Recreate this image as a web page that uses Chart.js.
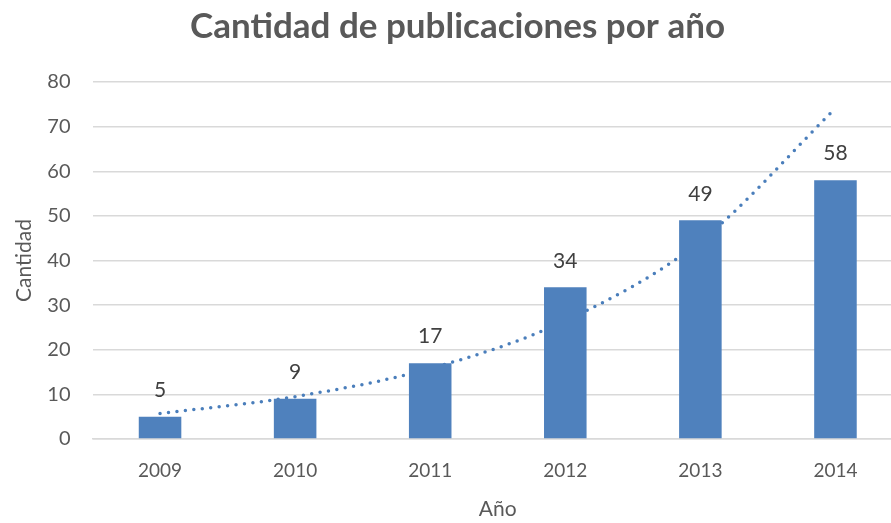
<!DOCTYPE html>
<html>
<head>
<meta charset="utf-8">
<script src="https://cdn.jsdelivr.net/npm/chart.js@4/dist/chart.umd.min.js"></script>
<style>
    html, body { margin: 0; padding: 0; background: #fff; overflow: hidden; }
    #wrap { width: 891px; height: 523px; overflow: hidden; }
</style>
</head>
<body>
<div id="wrap"><canvas id="pubChart" width="903" height="523"></canvas></div>
<script>
const years = ['2009', '2010', '2011', '2012', '2013', '2014'];
const publications = [5, 9, 17, 34, 49, 58];
// exponential trendline at each year
const trend = [5.7, 9.5, 15.8, 26.5, 44.3, 74.1];
const yTicks = [0, 10, 20, 30, 40, 50, 60, 70, 80];

const textColor = '#595959';
const barColor = '#4f81bd';

// draws the value above each bar
const barLabels = {
    id: 'barLabels',
    afterDatasetsDraw(chart) {
        const ctx = chart.ctx;
        const meta = chart.getDatasetMeta(0);
        ctx.save();
        ctx.font = '21px Lato';
        ctx.fillStyle = '#404040';
        ctx.textAlign = 'center';
        ctx.textBaseline = 'bottom';
        meta.data.forEach((bar, i) => {
            ctx.fillText(publications[i], bar.x, bar.y - 16);
        });
        ctx.restore();
    }
};

const ctx = document.getElementById('pubChart').getContext('2d');
new Chart(ctx, {
    type: 'bar',
    data: {
        labels: years,
        datasets: [{
            type: 'bar',
            label: 'Cantidad',
            data: publications,
            backgroundColor: barColor,
            borderWidth: 0,
            categoryPercentage: 1,
            barPercentage: 0.315,
            order: 1
        }, {
            type: 'line',
            label: 'Tendencia',
            data: trend,
            borderColor: '#4a7ebb',
            borderWidth: 3.5,
            borderDash: [0, 8.5],
            borderCapStyle: 'round',
            pointRadius: 0,
            fill: false,
            cubicInterpolationMode: 'monotone',
            order: 2
        }]
    },
    options: {
        responsive: false,
        animation: false,
        layout: { padding: { left: 12, right: 0, top: 6, bottom: 1 } },
        plugins: {
            legend: { display: false },
            tooltip: { enabled: false },
            title: {
                display: true,
                text: 'Cantidad de publicaciones por año',
                color: textColor,
                font: { family: 'Lato', size: 35, weight: 'bold' },
                padding: { top: 0, bottom: 34 }
            }
        },
        scales: {
            x: {
                grid: { display: false },
                border: { color: '#d9d9d9', width: 1.5 },
                ticks: {
                    color: textColor,
                    font: { family: 'Lato', size: 19 },
                    padding: 12
                },
                title: {
                    display: true,
                    text: 'Año',
                    color: textColor,
                    font: { family: 'Lato', size: 21 },
                    padding: { top: 3, bottom: 0 }
                }
            },
            y: {
                min: 0,
                max: 80,
                afterBuildTicks: axis => {
                    axis.ticks = yTicks.map(v => ({ value: v }));
                },
                afterFit: axis => { axis.width = 80.5; },
                grid: { color: '#d9d9d9', lineWidth: 1.5, drawTicks: false },
                border: { display: false },
                ticks: {
                    color: textColor,
                    font: { family: 'Lato', size: 20 },
                    padding: 22
                },
                title: {
                    display: true,
                    text: 'Cantidad',
                    color: textColor,
                    font: { family: 'Lato', size: 21 },
                    padding: { top: 0, bottom: 0 }
                }
            }
        }
    },
    plugins: [barLabels]
});
</script>
</body>
</html>
